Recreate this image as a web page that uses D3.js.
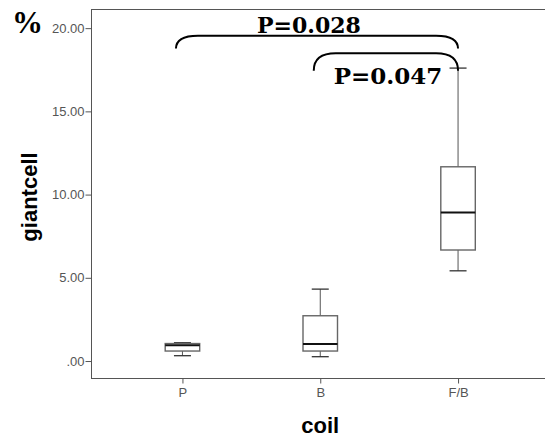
<!DOCTYPE html>
<html>
<head>
<meta charset="utf-8">
<script src="https://cdn.jsdelivr.net/npm/d3@7"></script>
<style>
  body { margin: 0; background: #fff; }
  svg { display: block; }
</style>
</head>
<body>
<div id="chart"></div>
<script>
// data
const groups = ['P', 'B', 'F/B'];
const lowWhisker = [0.32, 0.26, 5.42];
const q1 = [0.60, 0.60, 6.67];
const median = [0.95, 1.02, 8.93];
const q3 = [1.05, 2.72, 11.67];
const highWhisker = [1.10, 4.32, 17.6];
const yTicks = [0, 5, 10, 15, 20];
const comparisons = [
  { from: 'P', to: 'F/B', label: 'P=0.028' },
  { from: 'B', to: 'F/B', label: 'P=0.047' }
];

const width = 545, height = 440;
const frame = { left: 91.5, top: 9.5, bottom: 378.5, right: 549 };

const svg = d3.select('#chart')
    .append('svg')
    .attr('width', width)
    .attr('height', height);

const y = d3.scaleLinear()
    .domain([-1.05, 21.12])
    .range([frame.bottom, frame.top]);

const x = d3.scalePoint()
    .domain(groups)
    .range([frame.left, frame.right])
    .padding(0.66);

// frame
svg.append('rect')
    .attr('x', frame.left)
    .attr('y', frame.top)
    .attr('width', frame.right - frame.left)
    .attr('height', frame.bottom - frame.top)
    .attr('fill', 'none')
    .attr('stroke', '#555')
    .attr('stroke-width', 1);

// axes
const yAxis = svg.append('g')
    .attr('transform', `translate(${frame.left},0)`)
    .call(d3.axisLeft(y).tickValues(yTicks).tickSize(6).tickPadding(1)
        .tickFormat(d => d === 0 ? '.00' : d3.format('.2f')(d)));

const xAxis = svg.append('g')
    .attr('transform', `translate(0,${frame.bottom})`)
    .call(d3.axisBottom(x).tickSize(5).tickPadding(4));

[yAxis, xAxis].forEach(a => {
    a.select('.domain').remove();
    a.selectAll('line').attr('stroke', '#555');
    a.selectAll('text')
        .attr('fill', '#555')
        .attr('font-family', 'Liberation Sans, Arial, sans-serif')
        .attr('font-size', '13px');
});

// boxes
const boxW = 34.5, capW = 17;
const data = groups.map((g, i) => ({
    g, lo: lowWhisker[i], q1: q1[i], med: median[i], q3: q3[i], hi: highWhisker[i]
}));

const box = svg.selectAll('.box')
    .data(data)
    .enter()
    .append('g')
    .attr('class', 'box');

box.append('line')
    .attr('x1', d => x(d.g)).attr('x2', d => x(d.g))
    .attr('y1', d => y(d.hi)).attr('y2', d => y(d.q3))
    .attr('stroke', '#555');
box.append('line')
    .attr('x1', d => x(d.g)).attr('x2', d => x(d.g))
    .attr('y1', d => y(d.q1)).attr('y2', d => y(d.lo))
    .attr('stroke', '#555');
box.append('line')
    .attr('x1', d => x(d.g) - capW / 2).attr('x2', d => x(d.g) + capW / 2)
    .attr('y1', d => y(d.hi)).attr('y2', d => y(d.hi))
    .attr('stroke', '#333').attr('stroke-width', 1.3);
box.append('line')
    .attr('x1', d => x(d.g) - capW / 2).attr('x2', d => x(d.g) + capW / 2)
    .attr('y1', d => y(d.lo)).attr('y2', d => y(d.lo))
    .attr('stroke', '#333').attr('stroke-width', 1.3);
box.append('rect')
    .attr('x', d => x(d.g) - boxW / 2)
    .attr('y', d => y(d.q3))
    .attr('width', boxW)
    .attr('height', d => y(d.q1) - y(d.q3))
    .attr('fill', '#fff')
    .attr('stroke', '#666')
    .attr('stroke-width', 1.4);
box.append('line')
    .attr('x1', d => x(d.g) - boxW / 2).attr('x2', d => x(d.g) + boxW / 2)
    .attr('y1', d => y(d.med)).attr('y2', d => y(d.med))
    .attr('stroke', '#111').attr('stroke-width', 2);

// brackets with p values
const bracketTop = [19.55, 18.49];
const bracketDrop = [0.78, 1.05];
const r = 11;
comparisons.forEach((c, i) => {
    const x0 = x(c.from) - 6.5, x1 = x(c.to);
    const yt = y(bracketTop[i]), yb = y(bracketTop[i] - bracketDrop[i]);
    const p = d3.path();
    p.moveTo(x0, yb);
    p.quadraticCurveTo(x0, yt, x0 + r * 2, yt);
    p.lineTo(x1 - r * 2, yt);
    p.quadraticCurveTo(x1, yt, x1, yb);
    svg.append('path')
        .attr('d', p.toString())
        .attr('fill', 'none')
        .attr('stroke', '#000')
        .attr('stroke-width', 2);
});

svg.append('text')
    .attr('x', 309).attr('y', 33)
    .attr('text-anchor', 'middle')
    .attr('font-family', 'DejaVu Serif, serif')
    .attr('font-weight', 'bold')
    .attr('font-size', '22px')
    .text(comparisons[0].label);

svg.append('text')
    .attr('x', 388).attr('y', 84)
    .attr('text-anchor', 'middle')
    .attr('font-family', 'DejaVu Serif, serif')
    .attr('font-weight', 'bold')
    .attr('font-size', '23px')
    .text(comparisons[1].label);

// unit and axis titles
svg.append('text')
    .attr('x', 12).attr('y', 33)
    .attr('font-family', 'Liberation Serif, serif')
    .attr('font-weight', 'bold')
    .attr('font-size', '31px')
    .text('%');

svg.append('text')
    .attr('transform', 'translate(37,197) rotate(-90)')
    .attr('text-anchor', 'middle')
    .attr('font-family', 'Liberation Sans, Arial, sans-serif')
    .attr('font-weight', 'bold')
    .attr('font-size', '22px')
    .text('giantcell');

svg.append('text')
    .attr('x', x('B')).attr('y', 433)
    .attr('text-anchor', 'middle')
    .attr('font-family', 'Liberation Sans, Arial, sans-serif')
    .attr('font-weight', 'bold')
    .attr('font-size', '22px')
    .text('coil');
</script>
</body>
</html>
